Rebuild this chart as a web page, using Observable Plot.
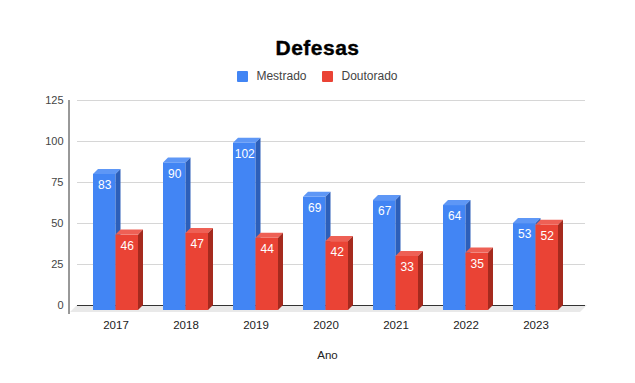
<!DOCTYPE html>
<html>
<head>
<meta charset="utf-8">
<script src="https://cdn.jsdelivr.net/npm/d3@7"></script>
<script src="https://cdn.jsdelivr.net/npm/@observablehq/plot@0.6"></script>
<style>
  html, body { margin: 0; padding: 0; background: #fff; }
  #wrap { position: relative; width: 635px; height: 383px; font-family: "Liberation Sans", Arial, sans-serif; }
  #head { position: relative; width: 635px; height: 88px; }
  #title { position: absolute; top: 36px; left: 0; width: 635px; text-align: center; font-size: 21px; font-weight: bold; letter-spacing: 0.5px; -webkit-text-stroke: 0.4px #000; color: #000; line-height: 24px; }
  #legend { position: absolute; top: 69px; left: 0; width: 635px; display: flex; justify-content: center; align-items: center; font-size: 12px; color: #444; line-height: 14px; }
  .sw { display: inline-block; width: 11px; height: 11px; border-radius: 1px; margin-right: 8px; }
  .item { display: inline-flex; align-items: center; margin: 0 8px; }
  svg { display: block; }
</style>
</head>
<body>
<div id="wrap">
  <div id="head">
    <div id="title">Defesas</div>
    <div id="legend"></div>
  </div>
  <div id="chart"></div>
</div>
<script>
const years = ["2017", "2018", "2019", "2020", "2021", "2022", "2023"];
const mestrado = [83, 90, 102, 69, 67, 64, 53];
const doutorado = [46, 47, 44, 42, 33, 35, 52];
const seriesNames = ["Mestrado", "Doutorado"];
const yTicks = [0, 25, 50, 75, 100, 125];
const xTitle = "Ano";

const colors = {
  Mestrado: {front: "#4285f4", top: "#5e97f6", side: "#2c5fba"},
  Doutorado: {front: "#ea4335", top: "#ee6055", side: "#a52a1e"}
};

// legend
const legend = document.getElementById("legend");
seriesNames.forEach(name => {
  const it = document.createElement("span");
  it.className = "item";
  it.innerHTML = `<span class="sw" style="background:${colors[name].front}"></span>${name}`;
  legend.appendChild(it);
});

const rows = years.map((year, i) => ({year, m: mestrado[i], d: doutorado[i]}));
const D = 5; // depth offset in px

function faces(key, series) {
  return (index, scales) => {
    const {x, y} = scales;
    const bw = x.bandwidth ? x.bandwidth() : 45;
    const half = bw / 2;
    const c = colors[series];
    const g = d3.create("svg:g");
    const y0 = y(0);
    for (const r of rows) {
      const xl = x(r.year) + (series === "Mestrado" ? 0 : half);
      const xr = xl + half;
      const yv = y(r[key]);
      // top face
      g.append("polygon")
        .attr("points", [[xl - D, yv + D], [xl, yv], [xr, yv], [xr - D, yv + D]].map(p => p.join(",")).join(" "))
        .attr("fill", c.top);
      // side face
      g.append("polygon")
        .attr("points", [[xr - D, yv + D], [xr, yv], [xr, y0], [xr - D, y0 + D]].map(p => p.join(",")).join(" "))
        .attr("fill", c.side);
    }
    return g.node();
  };
}

function background(index, scales, values, dims) {
  const {y} = scales;
  const g = d3.create("svg:g");
  const y0 = y(0);
  const x1 = dims.marginLeft, x2 = dims.width - dims.marginRight + 2;
  // floor
  g.append("polygon")
    .attr("points", [[x1, y0], [x2, y0], [x2 - 7, y0 + 7], [x1 - 7, y0 + 7]].map(p => p.join(",")).join(" "))
    .attr("fill", "#e9e9e9");
  // left axis line
  g.append("line")
    .attr("x1", x1 - 8).attr("x2", x1 - 8)
    .attr("y1", y(125)).attr("y2", y0 + 9)
    .attr("stroke", "#333").attr("stroke-width", 1);
  return g.node();
}

const chart = Plot.plot({
  width: 635,
  height: 295,
  marginTop: 12,
  marginBottom: 78,
  marginLeft: 77,
  marginRight: 50,
  style: {fontFamily: "'Liberation Sans', Arial, sans-serif", fontSize: "11px", color: "#444", background: "transparent"},
  x: {domain: years, range: [82.6, 578.2], paddingInner: 0.364, paddingOuter: 0.182},
  y: {domain: [0, 125], nice: false},
  marks: [
    background,
    Plot.ruleY(yTicks.filter(t => t > 0), {stroke: "#d6d6d6", strokeWidth: 1}),
    Plot.ruleY([0], {stroke: "#333", strokeWidth: 1}),
    Plot.axisY({ticks: yTicks, tickSize: 0, tickPadding: 14, label: null, fill: "#444"}),
    Plot.axisX({tickSize: 0, tickPadding: 15, dx: -5, label: null, fill: "#222", fontSize: 11.5}),
    Plot.barY(rows, {x: "year", y: "m", insetRight: 22.5, dx: -D, dy: D, fill: colors.Mestrado.front}),
    faces("m", "Mestrado"),
    Plot.barY(rows, {x: "year", y: "d", insetLeft: 22.5, dx: -D, dy: D, fill: colors.Doutorado.front}),
    faces("d", "Doutorado"),
    Plot.text(rows, {x: "year", y: "m", text: "m", dx: -D - 11.25, dy: D + 11, fill: "#fff", fontSize: 12}),
    Plot.text(rows, {x: "year", y: "d", text: "d", dx: -D + 11.25, dy: D + 11, fill: "#fff", fontSize: 12}),
    Plot.text([xTitle], {frameAnchor: "bottom", text: d => d, dx: -4, dy: 53, fill: "#222", fontSize: 11.5})
  ]
});
document.getElementById("chart").appendChild(chart);
</script>
</body>
</html>
